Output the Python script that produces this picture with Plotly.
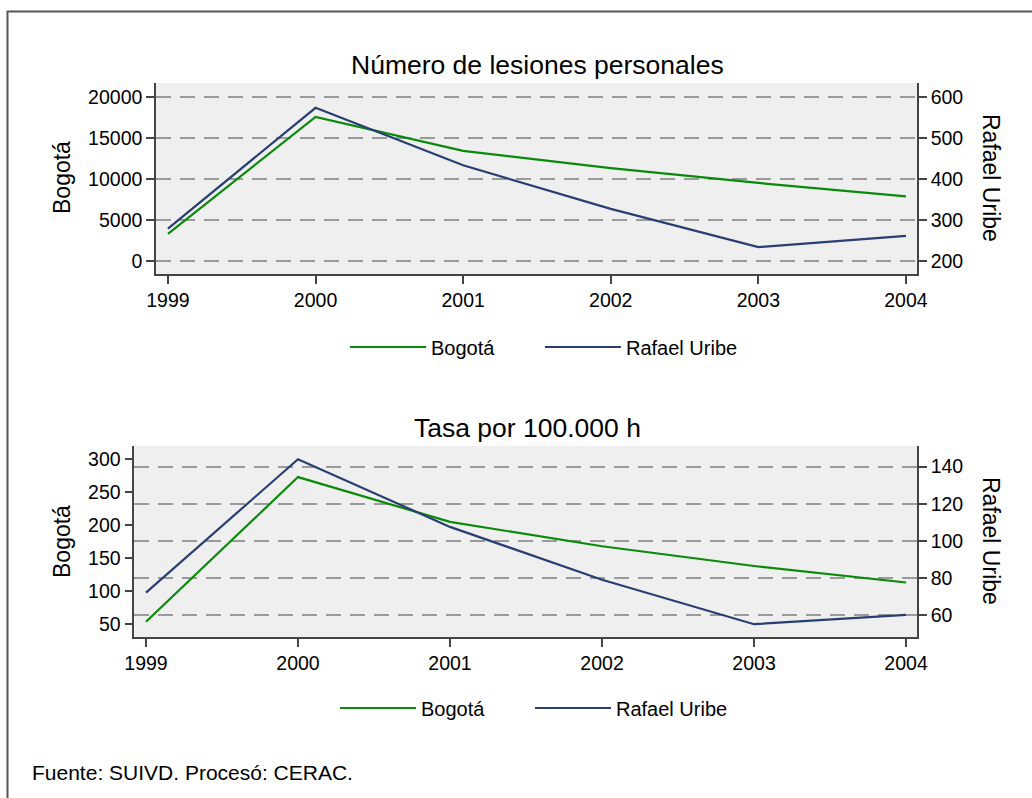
import plotly.graph_objects as go

years = [1999, 2000, 2001, 2002, 2003, 2004]

# Panel 1: Número de lesiones personales
lesiones_bogota = [3300, 17550, 13400, 11300, 9500, 7870]
lesiones_rafael = [279, 573, 433, 327, 234, 261]

# Panel 2: Tasa por 100.000 h
tasa_bogota = [53.5, 273, 205, 168, 138, 113]
tasa_rafael = [72, 144, 107.5, 79, 55, 60]

title_top = "Número de lesiones personales"
title_bottom = "Tasa por 100.000 h"
name_bog = "Bogotá"
name_raf = "Rafael Uribe"
note = "Fuente: SUIVD. Procesó: CERAC."

GREEN = "#0a8a0a"
NAVY = "#283f73"
W, H = 1032, 798
FONT = "Liberation Sans, Arial, sans-serif"


def px(x):
    return x / W


def py(y):
    return 1 - y / H


fig = go.Figure()
fig.add_trace(go.Scatter(x=years, y=lesiones_bogota, name=name_bog, mode="lines", legendwidth=104,
                         line=dict(color=GREEN, width=2.2), xaxis="x", yaxis="y", legend="legend"))
fig.add_trace(go.Scatter(x=years, y=lesiones_rafael, name=name_raf, mode="lines", legendwidth=140,
                         line=dict(color=NAVY, width=2.2), xaxis="x", yaxis="y2", legend="legend"))
fig.add_trace(go.Scatter(x=years, y=tasa_bogota, name=name_bog, mode="lines", legendwidth=104,
                         line=dict(color=GREEN, width=2.2), xaxis="x2", yaxis="y3", legend="legend2"))
fig.add_trace(go.Scatter(x=years, y=tasa_rafael, name=name_raf, mode="lines", legendwidth=140,
                         line=dict(color=NAVY, width=2.2), xaxis="x2", yaxis="y4", legend="legend2"))

axline = dict(showline=True, linecolor="#444444", linewidth=1.5, ticks="outside",
              ticklen=8, tickwidth=1.5, tickcolor="#444444", zeroline=False,
              automargin=False, tickformat="d",
              tickfont=dict(size=19.5, color="black", family=FONT))
grid = dict(showgrid=True, gridcolor="#9a9a9a", gridwidth=1.5, griddash="15px,9px")

top_dom_y = [py(274), py(83)]
bot_dom_y = [py(637), py(445.7)]

leg_common = dict(orientation="h", xanchor="left", yanchor="middle", itemwidth=76,
                  font=dict(size=20, family=FONT), bgcolor="rgba(0,0,0,0)")

fig.update_layout(
    width=W, height=H,
    margin=dict(l=0, r=0, t=0, b=0, pad=0),
    template="none",
    paper_bgcolor="white",
    plot_bgcolor="#efefef",
    font=dict(family=FONT, color="black"),
    xaxis=dict(domain=[px(156), px(917)], range=[1998.919, 2004.075], anchor="y",
               tickvals=years, showgrid=False, **axline),
    yaxis=dict(domain=top_dom_y, range=[-1582, 21667], anchor="x",
               tickvals=[0, 5000, 10000, 15000, 20000], showgrid=False, **axline),
    yaxis2=dict(range=[168.4, 633.4], overlaying="y", side="right", anchor="x",
                tickvals=[200, 300, 400, 500, 600], **grid, **axline),
    xaxis2=dict(domain=[px(134.3), px(917)], range=[1998.923, 2004.072], anchor="y3",
                tickvals=years, showgrid=False, **axline),
    yaxis3=dict(domain=bot_dom_y, range=[30.3, 320.6], anchor="x2",
                tickvals=[50, 100, 150, 200, 250, 300], showgrid=False, **axline),
    yaxis4=dict(range=[48.1, 151.3], overlaying="y3", side="right", anchor="x2",
                tickvals=[60, 80, 100, 120, 140], **grid, **axline),
    legend=dict(x=px(345), y=py(347), **leg_common),
    legend2=dict(x=px(335), y=py(708), **leg_common),
    showlegend=True,
)

annotations = [
    dict(text=title_top, x=px(537), y=py(65), font=dict(size=26.5)),
    dict(text=title_bottom, x=px(527), y=py(428), font=dict(size=26.5)),
    dict(text=name_bog, x=px(62), y=py(178), textangle=-90, font=dict(size=23)),
    dict(text=name_raf, x=px(991), y=py(178), textangle=90, font=dict(size=23)),
    dict(text=name_bog, x=px(62), y=py(542), textangle=-90, font=dict(size=23)),
    dict(text=name_raf, x=px(991), y=py(541), textangle=90, font=dict(size=23)),
]
for a in annotations:
    a.update(xref="paper", yref="paper", showarrow=False, xanchor="center", yanchor="middle")
    a["font"].update(family=FONT, color="black")
annotations.append(dict(text=note, x=px(30), y=py(772), xref="paper", yref="paper",
                        showarrow=False, xanchor="left", yanchor="middle",
                        font=dict(size=21, family=FONT, color="black")))
fig.update_layout(annotations=annotations)

fig.add_shape(type="rect", xref="paper", yref="paper", x0=px(7.5), y0=py(11.5), x1=1.02, y1=-0.02,
              line=dict(color="#555555", width=2), fillcolor="rgba(0,0,0,0)", layer="above")

fig.write_html("out.html", config={"displayModeBar": False},
               post_script="document.body.style.margin='0';document.body.style.overflow='hidden';")
